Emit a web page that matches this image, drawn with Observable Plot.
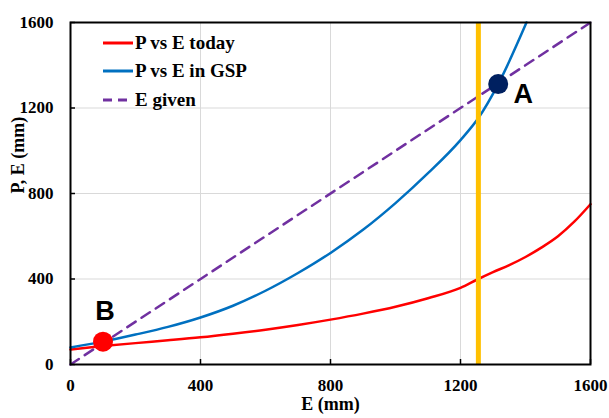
<!DOCTYPE html>
<html>
<head>
<meta charset="utf-8">
<script src="https://cdn.jsdelivr.net/npm/d3@7"></script>
<script src="https://cdn.jsdelivr.net/npm/@observablehq/plot@0.6"></script>
<style>
  html, body { margin: 0; padding: 0; background: #fff; }
  #wrap { position: relative; width: 609px; height: 418px; }
  #legend { position: absolute; left: 103px; top: 29px; font: bold 19px "Liberation Serif", serif; color: #000; }
  #legend .row { display: flex; align-items: center; height: 28.3px; }
  #legend svg { margin-right: 2px; }
  #chart svg g[aria-label="x-axis tick label"] text,
  #chart svg g[aria-label="y-axis tick label"] text { font-size: 17px; font-weight: bold; }
</style>
</head>
<body>
<div id="wrap"><div id="chart"></div><div id="legend"></div></div>
<script>
// Data
const eToday = [0, 100, 200, 300, 400, 500, 600, 700, 800, 900, 1000, 1100, 1200, 1255, 1300, 1350, 1400, 1450, 1500, 1550, 1600];
const pToday = [70, 86, 100, 113, 127, 144, 163, 185, 210, 238, 270, 310, 358, 400, 432, 465, 503, 548, 600, 668, 750];
const eGSP = [0, 100, 200, 300, 400, 500, 600, 700, 800, 900, 1000, 1100, 1200, 1255, 1316, 1403];
const pGSP = [80, 107, 140, 176, 220, 275, 345, 428, 522, 630, 755, 895, 1050, 1153, 1312, 1600];
const eGiven = [0, 1600];
const yellowE = 1255;
const pointA = {E: 1316, P: 1312, label: "A"};
const pointB = {E: 100, P: 107, label: "B"};
const ticks = [0, 400, 800, 1200, 1600];
const seriesNames = ["P vs E today", "P vs E in GSP", "E given"];
const seriesColors = ["#FF0000", "#0070C0", "#7030A0"];

const today = eToday.map((e, i) => ({E: e, P: pToday[i]}));
const gsp = eGSP.map((e, i) => ({E: e, P: pGSP[i]}));
const given = eGiven.map(e => ({E: e, P: e}));

const serif = "Liberation Serif, Times New Roman, serif";

const chart = Plot.plot({
  width: 609,
  height: 418,
  marginLeft: 70,
  marginRight: 19,
  marginTop: 22,
  marginBottom: 54,
  style: {fontFamily: serif, fontWeight: "bold", fontSize: "17px", color: "#000", background: "#fff"},
  x: {domain: [0, 1600]},
  y: {domain: [0, 1600]},
  marks: [
    Plot.gridX(ticks.slice(1, -1), {stroke: "#d9d9d9", strokeOpacity: 1, strokeWidth: 1}),
    Plot.gridY(ticks.slice(1, -1), {stroke: "#d9d9d9", strokeOpacity: 1, strokeWidth: 1}),
    Plot.axisX({ticks: ticks, tickFormat: d3.format("d"), tickSize: -5, tickPadding: 19, label: null, strokeWidth: 1.5}),
    Plot.axisY({ticks: ticks, tickFormat: d3.format("d"), tickSize: -5, tickPadding: 22, label: null, strokeWidth: 1.5}),
    Plot.line(given, {x: "E", y: "P", stroke: seriesColors[2], strokeWidth: 2.5, strokeDasharray: "10,7"}),
    Plot.line(today, {x: "E", y: "P", stroke: seriesColors[0], strokeWidth: 2.5, curve: "monotone-x"}),
    Plot.line(gsp, {x: "E", y: "P", stroke: seriesColors[1], strokeWidth: 2.5, curve: "monotone-x"}),
    Plot.ruleX([yellowE], {stroke: "#FFC000", strokeWidth: 5}),
    Plot.dot([pointA], {x: "E", y: "P", r: 10, fill: "#002060"}),
    Plot.dot([pointB], {x: "E", y: "P", r: 10, fill: "#FF0000"}),
    Plot.text([pointA], {x: "E", y: "P", text: "label", dx: 25, dy: 10, fontSize: 27, fontFamily: "Liberation Sans, Arial, sans-serif", fontWeight: "bold"}),
    Plot.text([pointB], {x: "E", y: "P", text: "label", dx: 2, dy: -30, fontSize: 27, fontFamily: "Liberation Sans, Arial, sans-serif", fontWeight: "bold"}),
    Plot.frame({stroke: "#000", strokeWidth: 2}),
    Plot.text(["E (mm)"], {frameAnchor: "bottom", dy: 45, text: d => d, fontSize: 18}),
    Plot.text(["P, E (mm)"], {frameAnchor: "left", rotate: -90, dx: -52, text: d => d, fontSize: 18})
  ]
});
document.getElementById("chart").appendChild(chart);

// Legend
const legend = document.getElementById("legend");
seriesNames.forEach((name, i) => {
  const row = document.createElement("div");
  row.className = "row";
  const dash = i === 2 ? 'stroke-dasharray="9,6"' : "";
  row.innerHTML = `<svg width="30" height="10"><line x1="0" y1="5" x2="30" y2="5" stroke="${seriesColors[i]}" stroke-width="3" ${dash}/></svg><span>${name}</span>`;
  legend.appendChild(row);
});
</script>
</body>
</html>
